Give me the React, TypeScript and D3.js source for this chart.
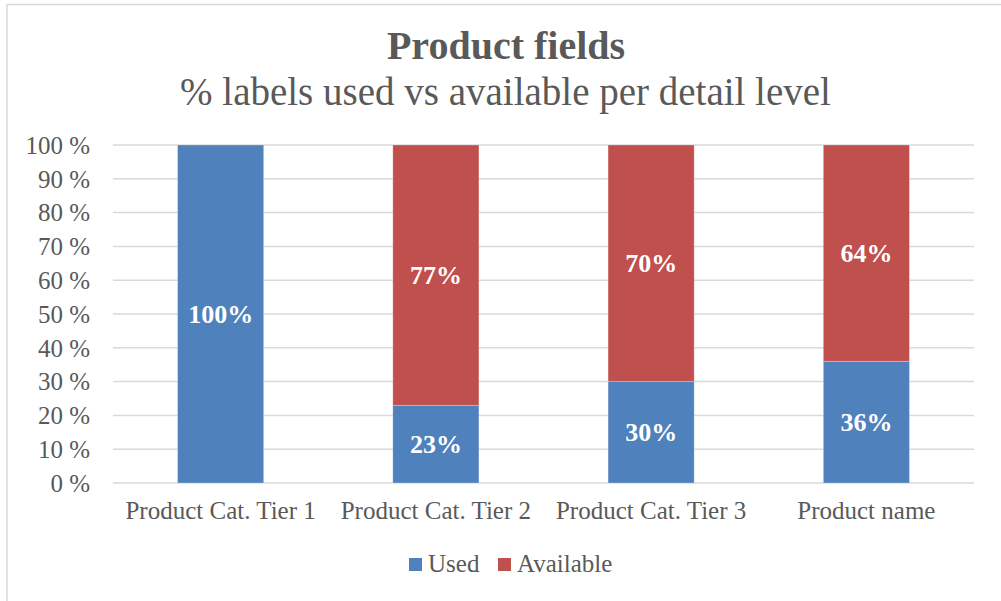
import React from "react";
import * as d3 from "d3";

const categories = ["Product Cat. Tier 1", "Product Cat. Tier 2", "Product Cat. Tier 3", "Product name"];
const usedValues = [100, 23, 30, 36];
const availableValues = [0, 77, 70, 64];
const seriesNames = ["Used", "Available"];
const seriesColors = ["#4f81bd", "#c0504d"];
const yTicks = [0, 10, 20, 30, 40, 50, 60, 70, 80, 90, 100];

const W = 1001;
const H = 601;
const FONT = "'Liberation Serif', 'DejaVu Serif', serif";
const TEXT = "#595959";
const GRID = "#d9d9d9";

export default function App() {
  const x = d3.scaleBand<string>().domain(categories).range([113, 974]).paddingInner(0.6).paddingOuter(0.3);
  const y = d3.scaleLinear().domain([0, 100]).range([483, 145]);

  const rows = categories.map((c, i) => ({ cat: c, Used: usedValues[i], Available: availableValues[i] }));
  const stacked = d3.stack<any>().keys(seriesNames)(rows);

  return (
    <svg width={W} height={H} style={{ position: "absolute", left: 0, top: 0, background: "#fff" }} fontFamily={FONT}>
      <rect x={7} y={4.5} width={W + 20} height={H + 20} fill="#fff" stroke={GRID} strokeWidth={1.5} />

      <text x={506} y={59} textAnchor="middle" fontSize={40} fontWeight="bold" fill={TEXT}>Product fields</text>
      <text x={505.5} y={105} textAnchor="middle" fontSize={39} fill={TEXT}>% labels used vs available per detail level</text>

      {yTicks.map((t) => (
        <g key={t}>
          <line x1={113} x2={974} y1={y(t)} y2={y(t)} stroke={GRID} strokeWidth={1.5} />
          <text x={90} y={y(t)} dy="0.35em" textAnchor="end" fontSize={25} fill={TEXT}>{`${t} %`}</text>
        </g>
      ))}

      {stacked.map((s, si) => (
        <g key={s.key}>
          {s.map((d, i) => {
            const v = d[1] - d[0];
            if (v <= 0) return null;
            const bx = x(categories[i])!;
            const bw = x.bandwidth();
            return (
              <g key={i}>
                <rect x={bx} y={y(d[1])} width={bw} height={y(d[0]) - y(d[1])} fill={seriesColors[si]} stroke="#fff" strokeOpacity={0.35} strokeWidth={0.75} />
                <text x={bx + bw / 2} y={(y(d[0]) + y(d[1])) / 2} dy="0.35em" textAnchor="middle" fontSize={26} fontWeight="bold" fill="#fff">{`${v}%`}</text>
              </g>
            );
          })}
        </g>
      ))}

      {categories.map((c) => (
        <text key={c} x={x(c)! + x.bandwidth() / 2} y={519} textAnchor="middle" fontSize={25} fill={TEXT}>{c}</text>
      ))}

      <g>
        <rect x={409} y={558} width={13} height={13} fill={seriesColors[0]} />
        <text x={428} y={572} fontSize={25} fill={TEXT}>{seriesNames[0]}</text>
        <rect x={498} y={558} width={13} height={13} fill={seriesColors[1]} />
        <text x={517} y={572} fontSize={25} fill={TEXT}>{seriesNames[1]}</text>
      </g>
    </svg>
  );
}
